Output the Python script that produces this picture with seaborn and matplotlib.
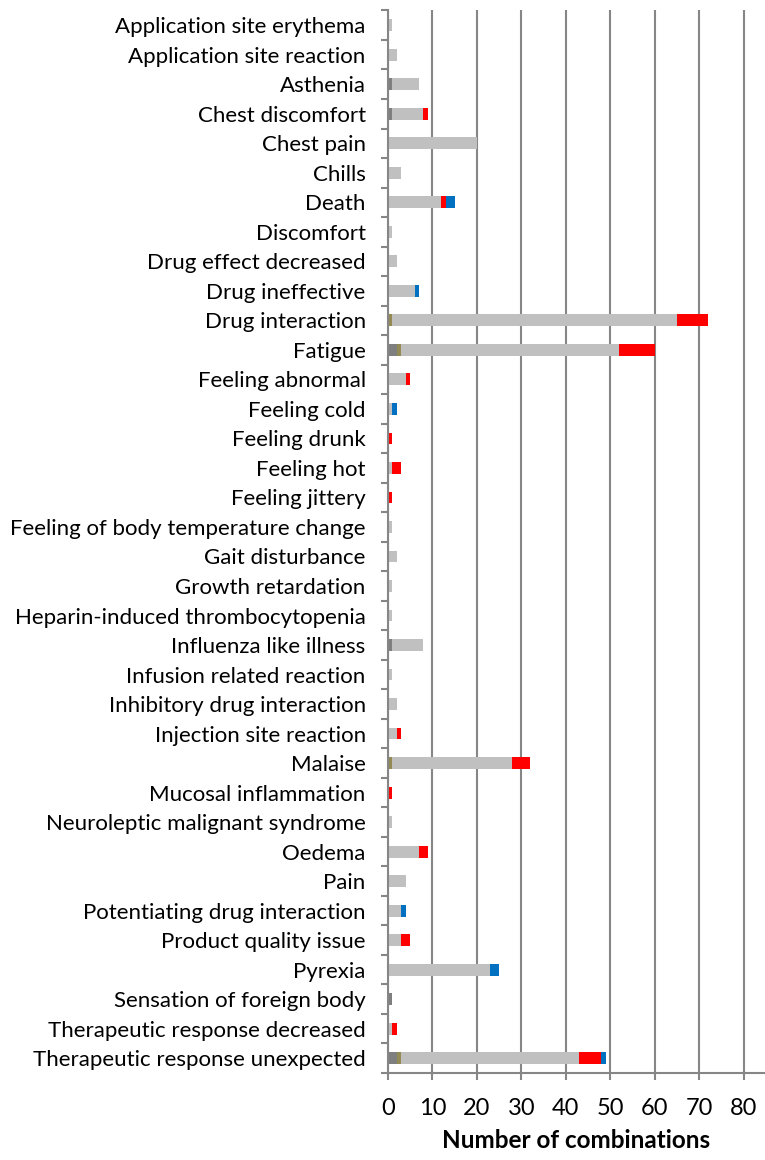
import numpy as np
import pandas as pd
import matplotlib
matplotlib.use("Agg")
import matplotlib.pyplot as plt
import seaborn as sns

categories = [
    "Application site erythema", "Application site reaction", "Asthenia",
    "Chest discomfort", "Chest pain", "Chills", "Death", "Discomfort",
    "Drug effect decreased", "Drug ineffective", "Drug interaction", "Fatigue",
    "Feeling abnormal", "Feeling cold", "Feeling drunk", "Feeling hot",
    "Feeling jittery", "Feeling of body temperature change", "Gait disturbance",
    "Growth retardation", "Heparin-induced thrombocytopenia",
    "Influenza like illness", "Infusion related reaction",
    "Inhibitory drug interaction", "Injection site reaction", "Malaise",
    "Mucosal inflammation", "Neuroleptic malignant syndrome", "Oedema", "Pain",
    "Potentiating drug interaction", "Product quality issue", "Pyrexia",
    "Sensation of foreign body", "Therapeutic response decreased",
    "Therapeutic response unexpected",
]

# segment values per category, left to right
dark_gray = [0, 0, 1, 1, 0, 0, 0, 0, 0, 0, 0, 2, 0, 0, 0, 0, 0, 0, 0, 0, 0, 1, 0, 0, 0, 0, 0, 0, 0, 0, 0, 0, 0, 1, 0, 2]
olive     = [0, 0, 0, 0, 0, 0, 0, 0, 0, 0, 1, 1, 0, 0, 0, 0, 0, 0, 0, 0, 0, 0, 0, 0, 0, 1, 0, 0, 0, 0, 0, 0, 0, 0, 0, 1]
light     = [1, 2, 6, 7, 20, 3, 12, 1, 2, 6, 64, 49, 4, 1, 0, 1, 0, 1, 2, 1, 1, 7, 1, 2, 2, 27, 0, 1, 7, 4, 3, 3, 23, 0, 1, 40]
red       = [0, 0, 0, 1, 0, 0, 1, 0, 0, 0, 7, 8, 1, 0, 1, 2, 1, 0, 0, 0, 0, 0, 0, 0, 1, 4, 1, 0, 2, 0, 0, 2, 0, 0, 1, 5]
blue      = [0, 0, 0, 0, 0, 0, 2, 0, 0, 1, 0, 0, 0, 1, 0, 0, 0, 0, 0, 0, 0, 0, 0, 0, 0, 0, 0, 0, 0, 0, 1, 0, 2, 0, 0, 1]

series = [
    ("dark", dark_gray, "#7F7F7F"),
    ("olive", olive, "#948A54"),
    ("light", light, "#C0C0C0"),
    ("red", red, "#FF0000"),
    ("blue", blue, "#0070C0"),
]

df = pd.DataFrame({"category": categories})
running = np.zeros(len(categories))
for name, vals, _ in series:
    running = running + np.array(vals)
    df[name] = running

sns.set_style("white")
plt.rcParams["font.family"] = ["Lato", "DejaVu Sans"]

fig = plt.figure(figsize=(7.65, 11.6), dpi=100)
ax = fig.add_axes([0.507, 0.075, 0.493, 0.916])

grid_color = "#868686"
ax.set_axisbelow(True)
ax.xaxis.grid(True, color=grid_color, linewidth=1.5)

# draw cumulative totals from the outermost segment inwards
for name, _, color in reversed(series):
    sns.barplot(data=df, x=name, y="category", orient="h", color=color,
                width=0.4, saturation=1, linewidth=0, ax=ax, order=categories)

ax.set_xlim(0, 84.8)
ax.set_ylim(len(categories) - 0.5, -0.5)
ax.set_xticks(range(0, 81, 10))
ax.set_yticks(range(len(categories)))
ax.set_yticklabels(categories, fontsize=16)
ax.set_yticks(np.arange(-0.5, len(categories), 1), minor=True)
ax.tick_params(axis="y", which="major", length=0, pad=16, labelcolor="black")
ax.tick_params(axis="y", which="minor", length=5, width=1.5, color=grid_color, left=True)
ax.tick_params(axis="x", length=5, width=1.5, color=grid_color, labelsize=17,
               pad=13, bottom=True, labelcolor="black")

for side in ["top", "right"]:
    ax.spines[side].set_visible(False)
for side in ["left", "bottom"]:
    ax.spines[side].set_color(grid_color)
    ax.spines[side].set_linewidth(1.5)

ax.set_ylabel("")
ax.set_xlabel("Number of combinations", fontsize=17.5, fontweight="bold",
              labelpad=7, color="black")

fig.savefig("out.png", dpi=100)
plt.close(fig)
